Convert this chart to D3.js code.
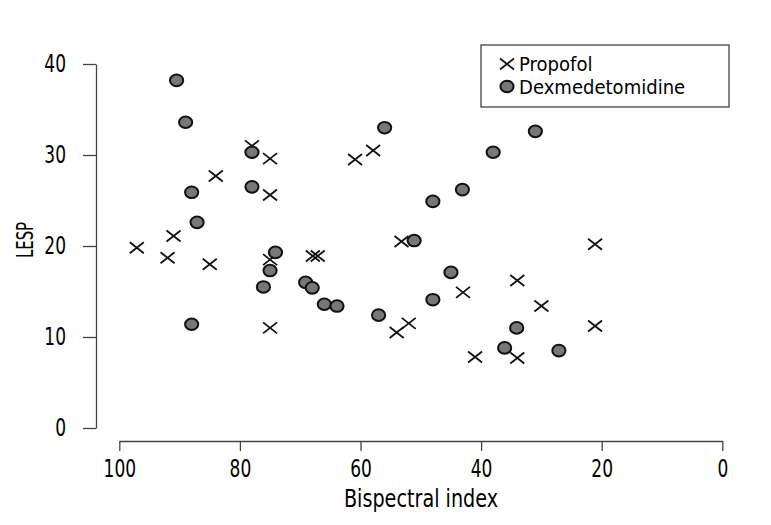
<!DOCTYPE html>
<html>
<head>
<meta charset="utf-8">
<script src="https://cdn.jsdelivr.net/npm/d3@7"></script>
<style>
  body { margin: 0; background: #fff; }
  svg { display: block; }
  text { font-family: "DejaVu Sans", sans-serif; fill: #000; }
  .axis path, .axis line { stroke: #444; stroke-width: 1.3; }
  .axis text { font-size: 24px; }
</style>
</head>
<body>
<div id="vis"></div>
<script>
// Propofol group: bispectral index vs LESP
var propofolBis  = [97.1, 91.0, 92.0, 85.0, 84.0, 78.0, 75.0, 75.0, 75.0, 75.0, 67.9, 67.1,
                    60.9, 57.9, 53.2, 54.0, 52.0, 43.0, 41.0, 34.0, 34.0, 30.0, 21.1, 21.1];
var propofolLesp = [19.8, 21.1, 18.7, 18.0, 27.7, 31.0, 29.6, 25.6, 18.5, 11.0, 18.9, 18.9,
                    29.5, 30.5, 20.5, 10.5, 11.5, 14.9, 7.8, 16.2, 7.7, 13.4, 20.2, 11.2];

// Dexmedetomidine group
var dexBis  = [90.5, 89.0, 88.0, 87.1, 88.0, 78.0, 78.0, 74.1, 75.0, 76.1, 69.1, 68.0, 66.0,
               63.9, 56.0, 57.0, 51.1, 48.0, 45.0, 48.0, 43.1, 38.0, 31.0, 36.1, 34.1, 27.1];
var dexLesp = [38.2, 33.6, 25.9, 22.6, 11.4, 30.3, 26.5, 19.3, 17.3, 15.5, 16.0, 15.4, 13.6,
               13.4, 33.0, 12.4, 20.6, 24.9, 17.1, 14.1, 26.2, 30.3, 32.6, 8.8, 11.0, 8.5];

var xTicks = [100, 80, 60, 40, 20, 0];
var yTicks = [0, 10, 20, 30, 40];
var seriesNames = ['Propofol', 'Dexmedetomidine'];

var width = 771;
var height = 525;

var svg = d3.select('#vis')
            .append('svg')
            .attr('width', width)
            .attr('height', height);

var xScale = d3.scaleLinear()
                .domain([100, 0])
                .range([119.3, 722.3]);
var yScale = d3.scaleLinear()
                .domain([0, 40])
                .range([428, 64]);

var xAxis = d3.axisBottom(xScale)
                .tickValues(xTicks)
                .tickSizeOuter(0)
                .tickSizeInner(10)
                .tickPadding(9);
var yAxis = d3.axisLeft(yScale)
                .tickValues(yTicks)
                .tickSizeOuter(0)
                .tickSizeInner(13);

// no condensed font installed, so squeeze the text horizontally
var digitSqueeze = 0.71;

svg.append('g')
    .attr('class', 'axis')
    .attr('transform', 'translate(0, 441)')
    .call(xAxis)
    .selectAll('text')
    .attr('transform', 'scale(' + digitSqueeze + ',1)');

svg.append('g')
    .attr('class', 'axis')
    .attr('transform', 'translate(96, 0)')
    .call(yAxis)
    .selectAll('text')
    .attr('x', -30 / digitSqueeze)
    .attr('transform', 'scale(' + digitSqueeze + ',1)');

svg.selectAll('.axis text').attr('fill', '#000');

svg.append('text')
    .attr('transform', 'translate(421, 507) scale(0.8,1)')
    .attr('text-anchor', 'middle')
    .style('font-size', '24px')
    .text('Bispectral index');

svg.append('text')
    .attr('transform', 'translate(33, 240) rotate(-90) scale(0.65,1)')
    .attr('text-anchor', 'middle')
    .style('font-size', '23px')
    .text('LESP');

function cross(sel) {
    sel.append('path')
        .attr('d', 'M-7,-5.5L7,5.5M-7,5.5L7,-5.5')
        .attr('stroke', '#111')
        .attr('stroke-width', 1.8)
        .attr('fill', 'none');
}

function dot(sel) {
    sel.append('ellipse')
        .attr('rx', 6.6)
        .attr('ry', 5.8)
        .attr('fill', '#777')
        .attr('stroke', '#111')
        .attr('stroke-width', 2);
}

var propofol = propofolBis.map(function(d, i) { return { bis: d, lesp: propofolLesp[i] }; });
var dex = dexBis.map(function(d, i) { return { bis: d, lesp: dexLesp[i] }; });

svg.append('g').selectAll('g')
    .data(propofol)
    .enter().append('g')
    .attr('transform', function(d) { return 'translate(' + xScale(d.bis) + ',' + yScale(d.lesp) + ')'; })
    .call(cross);

svg.append('g').selectAll('g')
    .data(dex)
    .enter().append('g')
    .attr('transform', function(d) { return 'translate(' + xScale(d.bis) + ',' + yScale(d.lesp) + ')'; })
    .call(dot);

// legend
var legend = svg.append('g').attr('transform', 'translate(481, 45)');
legend.append('rect')
    .attr('width', 248)
    .attr('height', 62)
    .attr('fill', '#fff')
    .attr('stroke', '#444')
    .attr('stroke-width', 1.3);

var rows = legend.selectAll('.row')
    .data(seriesNames)
    .enter().append('g')
    .attr('class', 'row')
    .attr('transform', function(d, i) { return 'translate(26,' + (19 + i * 22.5) + ')'; });

rows.filter(function(d, i) { return i === 0; }).call(cross);
rows.filter(function(d, i) { return i === 1; }).call(dot);

rows.append('text')
    .attr('transform', 'translate(12,7) scale(0.95,1)')
    .style('font-size', '19px')
    .text(function(d) { return d; });
</script>
</body>
</html>
